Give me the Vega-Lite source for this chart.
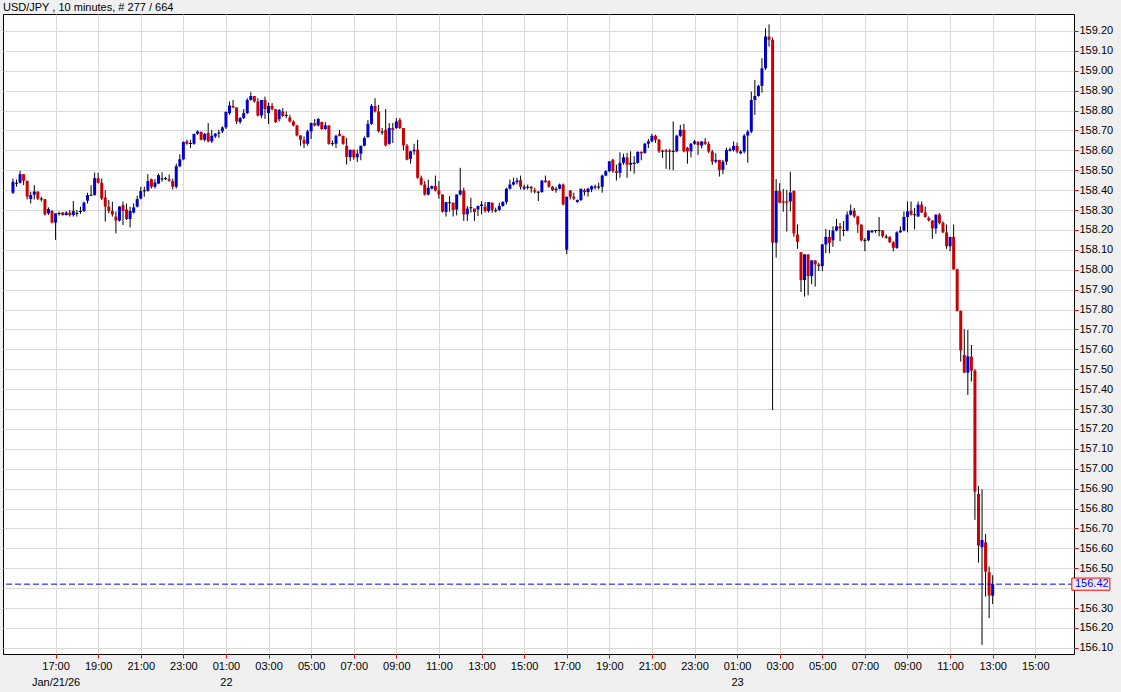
{
"$schema": "https://vega.github.io/schema/vega-lite/v6.json",
"width": 1071,
"height": 640,
"autosize": {"type": "none"},
"padding": {"left": 3, "top": 14, "right": 47, "bottom": 38},
"background": "#f0f0f0",
"title": {"text": "USD/JPY , 10 minutes, # 277 / 664", "anchor": "start", "frame": "group", "font": "Liberation Sans", "fontSize": 11, "fontWeight": "normal", "color": "#000000", "offset": 1},
"config": {"view": {"fill": "white", "stroke": "black", "strokeWidth": 1}, "font": "Liberation Sans"},
"datasets": {
"candles": [
{"i":0,"o":158.387,"h":158.458,"l":158.38,"c":158.442},
{"i":1,"o":158.437,"h":158.453,"l":158.417,"c":158.432},
{"i":2,"o":158.437,"h":158.497,"l":158.433,"c":158.48},
{"i":3,"o":158.48,"h":158.48,"l":158.425,"c":158.447},
{"i":4,"o":158.447,"h":158.447,"l":158.353,"c":158.367},
{"i":5,"o":158.355,"h":158.392,"l":158.333,"c":158.375},
{"i":6,"o":158.377,"h":158.425,"l":158.353,"c":158.393},
{"i":7,"o":158.393,"h":158.393,"l":158.35,"c":158.357},
{"i":8,"o":158.358,"h":158.367,"l":158.342,"c":158.353},
{"i":9,"o":158.355,"h":158.355,"l":158.272,"c":158.278},
{"i":10,"o":158.283,"h":158.313,"l":158.275,"c":158.305},
{"i":11,"o":158.295,"h":158.3,"l":158.233,"c":158.237},
{"i":12,"o":158.237,"h":158.283,"l":158.15,"c":158.283},
{"i":13,"o":158.285,"h":158.292,"l":158.272,"c":158.28},
{"i":14,"o":158.287,"h":158.29,"l":158.272,"c":158.275},
{"i":15,"o":158.275,"h":158.295,"l":158.272,"c":158.287},
{"i":16,"o":158.287,"h":158.3,"l":158.267,"c":158.275},
{"i":17,"o":158.275,"h":158.345,"l":158.267,"c":158.295},
{"i":18,"o":158.286,"h":158.3,"l":158.267,"c":158.281},
{"i":19,"o":158.295,"h":158.317,"l":158.28,"c":158.29},
{"i":20,"o":158.295,"h":158.342,"l":158.29,"c":158.337},
{"i":21,"o":158.347,"h":158.387,"l":158.333,"c":158.375},
{"i":22,"o":158.377,"h":158.425,"l":158.37,"c":158.372},
{"i":23,"o":158.375,"h":158.488,"l":158.373,"c":158.46},
{"i":24,"o":158.46,"h":158.487,"l":158.433,"c":158.437},
{"i":25,"o":158.437,"h":158.458,"l":158.35,"c":158.358},
{"i":26,"o":158.363,"h":158.4,"l":158.242,"c":158.317},
{"i":27,"o":158.317,"h":158.35,"l":158.283,"c":158.295},
{"i":28,"o":158.295,"h":158.342,"l":158.267,"c":158.278},
{"i":29,"o":158.267,"h":158.292,"l":158.183,"c":158.247},
{"i":30,"o":158.247,"h":158.32,"l":158.242,"c":158.317},
{"i":31,"o":158.325,"h":158.342,"l":158.225,"c":158.295},
{"i":32,"o":158.303,"h":158.333,"l":158.25,"c":158.255},
{"i":33,"o":158.255,"h":158.317,"l":158.212,"c":158.295},
{"i":34,"o":158.287,"h":158.333,"l":158.283,"c":158.313},
{"i":35,"o":158.317,"h":158.372,"l":158.313,"c":158.355},
{"i":36,"o":158.358,"h":158.417,"l":158.353,"c":158.395},
{"i":37,"o":158.399,"h":158.417,"l":158.367,"c":158.394},
{"i":38,"o":158.397,"h":158.48,"l":158.392,"c":158.445},
{"i":39,"o":158.455,"h":158.458,"l":158.408,"c":158.417},
{"i":40,"o":158.417,"h":158.455,"l":158.408,"c":158.438},
{"i":41,"o":158.433,"h":158.483,"l":158.43,"c":158.475},
{"i":42,"o":158.459,"h":158.49,"l":158.442,"c":158.454},
{"i":43,"o":158.46,"h":158.467,"l":158.45,"c":158.455},
{"i":44,"o":158.455,"h":158.478,"l":158.442,"c":158.447},
{"i":45,"o":158.445,"h":158.458,"l":158.403,"c":158.417},
{"i":46,"o":158.417,"h":158.533,"l":158.408,"c":158.52},
{"i":47,"o":158.52,"h":158.58,"l":158.515,"c":158.555},
{"i":48,"o":158.555,"h":158.645,"l":158.55,"c":158.642},
{"i":49,"o":158.645,"h":158.653,"l":158.628,"c":158.633},
{"i":50,"o":158.637,"h":158.653,"l":158.612,"c":158.632},
{"i":51,"o":158.633,"h":158.683,"l":158.628,"c":158.683},
{"i":52,"o":158.683,"h":158.7,"l":158.678,"c":158.695},
{"i":53,"o":158.692,"h":158.695,"l":158.65,"c":158.653},
{"i":54,"o":158.653,"h":158.687,"l":158.645,"c":158.682},
{"i":55,"o":158.687,"h":158.737,"l":158.64,"c":158.645},
{"i":56,"o":158.645,"h":158.703,"l":158.637,"c":158.673},
{"i":57,"o":158.67,"h":158.687,"l":158.662,"c":158.683},
{"i":58,"o":158.689,"h":158.703,"l":158.662,"c":158.684},
{"i":59,"o":158.695,"h":158.72,"l":158.687,"c":158.715},
{"i":60,"o":158.715,"h":158.795,"l":158.707,"c":158.793},
{"i":61,"o":158.787,"h":158.845,"l":158.778,"c":158.825},
{"i":62,"o":158.823,"h":158.853,"l":158.812,"c":158.815},
{"i":63,"o":158.815,"h":158.815,"l":158.733,"c":158.745},
{"i":64,"o":158.742,"h":158.767,"l":158.733,"c":158.762},
{"i":65,"o":158.762,"h":158.807,"l":158.757,"c":158.787},
{"i":66,"o":158.787,"h":158.862,"l":158.783,"c":158.853},
{"i":67,"o":158.853,"h":158.892,"l":158.85,"c":158.873},
{"i":68,"o":158.873,"h":158.873,"l":158.84,"c":158.845},
{"i":69,"o":158.845,"h":158.862,"l":158.77,"c":158.775},
{"i":70,"o":158.775,"h":158.853,"l":158.762,"c":158.853},
{"i":71,"o":158.853,"h":158.87,"l":158.758,"c":158.807},
{"i":72,"o":158.787,"h":158.84,"l":158.732,"c":158.823},
{"i":73,"o":158.823,"h":158.837,"l":158.8,"c":158.807},
{"i":74,"o":158.807,"h":158.807,"l":158.737,"c":158.742},
{"i":75,"o":158.757,"h":158.807,"l":158.745,"c":158.803},
{"i":76,"o":158.795,"h":158.812,"l":158.767,"c":158.773},
{"i":77,"o":158.778,"h":158.795,"l":158.762,"c":158.773},
{"i":78,"o":158.765,"h":158.778,"l":158.74,"c":158.745},
{"i":79,"o":158.745,"h":158.75,"l":158.72,"c":158.725},
{"i":80,"o":158.725,"h":158.728,"l":158.67,"c":158.675},
{"i":81,"o":158.675,"h":158.675,"l":158.623,"c":158.653},
{"i":82,"o":158.653,"h":158.67,"l":158.612,"c":158.633},
{"i":83,"o":158.633,"h":158.703,"l":158.623,"c":158.695},
{"i":84,"o":158.695,"h":158.74,"l":158.657,"c":158.737},
{"i":85,"o":158.737,"h":158.757,"l":158.72,"c":158.725},
{"i":86,"o":158.725,"h":158.762,"l":158.72,"c":158.757},
{"i":87,"o":158.743,"h":158.743,"l":158.703,"c":158.707},
{"i":88,"o":158.707,"h":158.742,"l":158.703,"c":158.725},
{"i":89,"o":158.725,"h":158.725,"l":158.628,"c":158.633},
{"i":90,"o":158.636,"h":158.65,"l":158.623,"c":158.631},
{"i":91,"o":158.633,"h":158.678,"l":158.612,"c":158.673},
{"i":92,"o":158.683,"h":158.703,"l":158.67,"c":158.673},
{"i":93,"o":158.673,"h":158.673,"l":158.628,"c":158.632},
{"i":94,"o":158.623,"h":158.662,"l":158.528,"c":158.567},
{"i":95,"o":158.565,"h":158.603,"l":158.545,"c":158.603},
{"i":96,"o":158.603,"h":158.603,"l":158.553,"c":158.565},
{"i":97,"o":158.565,"h":158.603,"l":158.542,"c":158.583},
{"i":98,"o":158.583,"h":158.623,"l":158.55,"c":158.623},
{"i":99,"o":158.623,"h":158.67,"l":158.62,"c":158.662},
{"i":100,"o":158.667,"h":158.753,"l":158.662,"c":158.733},
{"i":101,"o":158.733,"h":158.833,"l":158.728,"c":158.823},
{"i":102,"o":158.823,"h":158.862,"l":158.79,"c":158.795},
{"i":103,"o":158.795,"h":158.828,"l":158.69,"c":158.695},
{"i":104,"o":158.694,"h":158.712,"l":158.678,"c":158.689},
{"i":105,"o":158.703,"h":158.807,"l":158.62,"c":158.625},
{"i":106,"o":158.633,"h":158.737,"l":158.628,"c":158.712},
{"i":107,"o":158.712,"h":158.737,"l":158.637,"c":158.703},
{"i":108,"o":158.712,"h":158.762,"l":158.707,"c":158.745},
{"i":109,"o":158.753,"h":158.762,"l":158.707,"c":158.712},
{"i":110,"o":158.712,"h":158.712,"l":158.6,"c":158.625},
{"i":111,"o":158.623,"h":158.632,"l":158.55,"c":158.553},
{"i":112,"o":158.557,"h":158.598,"l":158.533,"c":158.595},
{"i":113,"o":158.595,"h":158.633,"l":158.578,"c":158.603},
{"i":114,"o":158.603,"h":158.653,"l":158.457,"c":158.462},
{"i":115,"o":158.462,"h":158.473,"l":158.423,"c":158.428},
{"i":116,"o":158.428,"h":158.445,"l":158.373,"c":158.378},
{"i":117,"o":158.378,"h":158.453,"l":158.373,"c":158.412},
{"i":118,"o":158.408,"h":158.423,"l":158.403,"c":158.42},
{"i":119,"o":158.42,"h":158.473,"l":158.393,"c":158.398},
{"i":120,"o":158.398,"h":158.445,"l":158.357,"c":158.378},
{"i":121,"o":158.378,"h":158.378,"l":158.287,"c":158.292},
{"i":122,"o":158.29,"h":158.34,"l":158.267,"c":158.34},
{"i":123,"o":158.339,"h":158.37,"l":158.292,"c":158.334},
{"i":124,"o":158.337,"h":158.337,"l":158.267,"c":158.3},
{"i":125,"o":158.303,"h":158.378,"l":158.273,"c":158.378},
{"i":126,"o":158.378,"h":158.512,"l":158.373,"c":158.398},
{"i":127,"o":158.398,"h":158.412,"l":158.245,"c":158.278},
{"i":128,"o":158.278,"h":158.32,"l":158.245,"c":158.307},
{"i":129,"o":158.314,"h":158.362,"l":158.287,"c":158.309},
{"i":130,"o":158.307,"h":158.307,"l":158.245,"c":158.29},
{"i":131,"o":158.303,"h":158.323,"l":158.27,"c":158.32},
{"i":132,"o":158.32,"h":158.345,"l":158.278,"c":158.328},
{"i":133,"o":158.317,"h":158.34,"l":158.287,"c":158.295},
{"i":134,"o":158.295,"h":158.34,"l":158.287,"c":158.34},
{"i":135,"o":158.337,"h":158.337,"l":158.287,"c":158.3},
{"i":136,"o":158.299,"h":158.312,"l":158.287,"c":158.294},
{"i":137,"o":158.3,"h":158.337,"l":158.295,"c":158.32},
{"i":138,"o":158.32,"h":158.345,"l":158.317,"c":158.34},
{"i":139,"o":158.34,"h":158.412,"l":158.328,"c":158.407},
{"i":140,"o":158.407,"h":158.453,"l":158.403,"c":158.428},
{"i":141,"o":158.428,"h":158.462,"l":158.423,"c":158.44},
{"i":142,"o":158.44,"h":158.462,"l":158.428,"c":158.448},
{"i":143,"o":158.45,"h":158.473,"l":158.403,"c":158.417},
{"i":144,"o":158.408,"h":158.428,"l":158.4,"c":158.417},
{"i":145,"o":158.417,"h":158.428,"l":158.403,"c":158.412},
{"i":146,"o":158.417,"h":158.42,"l":158.387,"c":158.408},
{"i":147,"o":158.4,"h":158.412,"l":158.383,"c":158.392},
{"i":148,"o":158.392,"h":158.395,"l":158.345,"c":158.387},
{"i":149,"o":158.39,"h":158.45,"l":158.387,"c":158.448},
{"i":150,"o":158.448,"h":158.473,"l":158.437,"c":158.44},
{"i":151,"o":158.445,"h":158.45,"l":158.412,"c":158.417},
{"i":152,"o":158.417,"h":158.42,"l":158.395,"c":158.4},
{"i":153,"o":158.4,"h":158.417,"l":158.387,"c":158.407},
{"i":154,"o":158.407,"h":158.433,"l":158.403,"c":158.428},
{"i":155,"o":158.428,"h":158.433,"l":158.323,"c":158.328},
{"i":156,"o":158.1,"h":158.367,"l":158.078,"c":158.367},
{"i":157,"o":158.398,"h":158.398,"l":158.353,"c":158.367},
{"i":158,"o":158.367,"h":158.387,"l":158.35,"c":158.357},
{"i":159,"o":158.34,"h":158.353,"l":158.337,"c":158.35},
{"i":160,"o":158.35,"h":158.407,"l":158.345,"c":158.407},
{"i":161,"o":158.4,"h":158.407,"l":158.373,"c":158.39},
{"i":162,"o":158.39,"h":158.412,"l":158.367,"c":158.407},
{"i":163,"o":158.403,"h":158.423,"l":158.39,"c":158.42},
{"i":164,"o":158.418,"h":158.428,"l":158.403,"c":158.413},
{"i":165,"o":158.418,"h":158.437,"l":158.403,"c":158.413},
{"i":166,"o":158.417,"h":158.478,"l":158.387,"c":158.473},
{"i":167,"o":158.473,"h":158.5,"l":158.47,"c":158.495},
{"i":168,"o":158.495,"h":158.545,"l":158.49,"c":158.545},
{"i":169,"o":158.553,"h":158.557,"l":158.487,"c":158.495},
{"i":170,"o":158.495,"h":158.528,"l":158.448,"c":158.487},
{"i":171,"o":158.487,"h":158.59,"l":158.462,"c":158.537},
{"i":172,"o":158.537,"h":158.583,"l":158.528,"c":158.565},
{"i":173,"o":158.565,"h":158.587,"l":158.462,"c":158.528},
{"i":174,"o":158.528,"h":158.595,"l":158.495,"c":158.537},
{"i":175,"o":158.531,"h":158.57,"l":158.483,"c":158.538},
{"i":176,"o":158.537,"h":158.595,"l":158.533,"c":158.592},
{"i":177,"o":158.592,"h":158.595,"l":158.55,"c":158.585},
{"i":178,"o":158.587,"h":158.637,"l":158.583,"c":158.633},
{"i":179,"o":158.633,"h":158.657,"l":158.612,"c":158.645},
{"i":180,"o":158.645,"h":158.683,"l":158.64,"c":158.673},
{"i":181,"o":158.673,"h":158.678,"l":158.637,"c":158.653},
{"i":182,"o":158.653,"h":158.657,"l":158.587,"c":158.595},
{"i":183,"o":158.598,"h":158.603,"l":158.562,"c":158.593},
{"i":184,"o":158.6,"h":158.607,"l":158.507,"c":158.592},
{"i":185,"o":158.599,"h":158.607,"l":158.503,"c":158.592},
{"i":186,"o":158.597,"h":158.745,"l":158.5,"c":158.592},
{"i":187,"o":158.595,"h":158.678,"l":158.59,"c":158.673},
{"i":188,"o":158.673,"h":158.728,"l":158.667,"c":158.703},
{"i":189,"o":158.703,"h":158.733,"l":158.59,"c":158.595},
{"i":190,"o":158.612,"h":158.617,"l":158.533,"c":158.595},
{"i":191,"o":158.595,"h":158.637,"l":158.565,"c":158.633},
{"i":192,"o":158.633,"h":158.653,"l":158.628,"c":158.645},
{"i":193,"o":158.644,"h":158.644,"l":158.577,"c":158.627},
{"i":194,"o":158.624,"h":158.647,"l":158.61,"c":158.644},
{"i":195,"o":158.644,"h":158.661,"l":158.627,"c":158.632},
{"i":196,"o":158.632,"h":158.644,"l":158.585,"c":158.594},
{"i":197,"o":158.594,"h":158.602,"l":158.527,"c":158.543},
{"i":198,"o":158.543,"h":158.585,"l":158.535,"c":158.552},
{"i":199,"o":158.552,"h":158.552,"l":158.468,"c":158.502},
{"i":200,"o":158.502,"h":158.552,"l":158.48,"c":158.543},
{"i":201,"o":158.543,"h":158.614,"l":158.527,"c":158.602},
{"i":202,"o":158.597,"h":158.614,"l":158.594,"c":158.605},
{"i":203,"o":158.602,"h":158.644,"l":158.594,"c":158.622},
{"i":204,"o":158.622,"h":158.639,"l":158.585,"c":158.594},
{"i":205,"o":158.585,"h":158.602,"l":158.58,"c":158.594},
{"i":206,"o":158.594,"h":158.681,"l":158.585,"c":158.674},
{"i":207,"o":158.674,"h":158.702,"l":158.538,"c":158.694},
{"i":208,"o":158.694,"h":158.895,"l":158.686,"c":158.853},
{"i":209,"o":158.853,"h":158.954,"l":158.778,"c":158.873},
{"i":210,"o":158.873,"h":158.929,"l":158.87,"c":158.924},
{"i":211,"o":158.924,"h":159.063,"l":158.89,"c":159.012},
{"i":212,"o":159.012,"h":159.213,"l":159.004,"c":159.172},
{"i":213,"o":159.172,"h":159.233,"l":159.121,"c":159.155},
{"i":214,"o":159.155,"h":159.167,"l":157.295,"c":158.136},
{"i":215,"o":158.136,"h":158.455,"l":158.061,"c":158.396},
{"i":216,"o":158.396,"h":158.435,"l":158.334,"c":158.337},
{"i":217,"o":158.344,"h":158.406,"l":158.292,"c":158.337},
{"i":218,"o":158.344,"h":158.401,"l":158.192,"c":158.337},
{"i":219,"o":158.343,"h":158.493,"l":158.293,"c":158.388},
{"i":220,"o":158.397,"h":158.397,"l":158.165,"c":158.182},
{"i":221,"o":158.177,"h":158.227,"l":158.105,"c":158.14},
{"i":222,"o":158.088,"h":158.088,"l":157.888,"c":157.948},
{"i":223,"o":157.948,"h":158.077,"l":157.865,"c":158.077},
{"i":224,"o":158.077,"h":158.077,"l":157.872,"c":157.968},
{"i":225,"o":157.968,"h":158.047,"l":157.927,"c":158.047},
{"i":226,"o":158.047,"h":158.047,"l":157.915,"c":158.027},
{"i":227,"o":158.027,"h":158.035,"l":157.993,"c":158.018},
{"i":228,"o":158.018,"h":158.13,"l":157.993,"c":158.127},
{"i":229,"o":158.127,"h":158.205,"l":158.083,"c":158.165},
{"i":230,"o":158.165,"h":158.2,"l":158.083,"c":158.135},
{"i":231,"o":158.148,"h":158.218,"l":158.115,"c":158.197},
{"i":232,"o":158.197,"h":158.255,"l":158.193,"c":158.218},
{"i":233,"o":158.218,"h":158.235,"l":158.143,"c":158.207},
{"i":234,"o":158.2,"h":158.245,"l":158.168,"c":158.195},
{"i":235,"o":158.197,"h":158.293,"l":158.193,"c":158.277},
{"i":236,"o":158.277,"h":158.327,"l":158.272,"c":158.297},
{"i":237,"o":158.297,"h":158.31,"l":158.26,"c":158.268},
{"i":238,"o":158.268,"h":158.272,"l":158.185,"c":158.227},
{"i":239,"o":158.227,"h":158.227,"l":158.143,"c":158.148},
{"i":240,"o":158.15,"h":158.16,"l":158.093,"c":158.145},
{"i":241,"o":158.148,"h":158.197,"l":158.143,"c":158.197},
{"i":242,"o":158.188,"h":158.2,"l":158.185,"c":158.197},
{"i":243,"o":158.199,"h":158.2,"l":158.185,"c":158.194},
{"i":244,"o":158.199,"h":158.265,"l":158.168,"c":158.194},
{"i":245,"o":158.197,"h":158.2,"l":158.16,"c":158.168},
{"i":246,"o":158.167,"h":158.178,"l":158.155,"c":158.162},
{"i":247,"o":158.165,"h":158.168,"l":158.135,"c":158.138},
{"i":248,"o":158.138,"h":158.143,"l":158.093,"c":158.11},
{"i":249,"o":158.11,"h":158.193,"l":158.105,"c":158.188},
{"i":250,"o":158.188,"h":158.218,"l":158.185,"c":158.197},
{"i":251,"o":158.197,"h":158.293,"l":158.193,"c":158.265},
{"i":252,"o":158.265,"h":158.343,"l":158.188,"c":158.293},
{"i":253,"o":158.297,"h":158.343,"l":158.272,"c":158.277},
{"i":254,"o":158.279,"h":158.31,"l":158.202,"c":158.274},
{"i":255,"o":158.268,"h":158.343,"l":158.265,"c":158.327},
{"i":256,"o":158.327,"h":158.343,"l":158.285,"c":158.288},
{"i":257,"o":158.288,"h":158.317,"l":158.262,"c":158.265},
{"i":258,"o":158.26,"h":158.268,"l":158.242,"c":158.248},
{"i":259,"o":158.248,"h":158.248,"l":158.155,"c":158.207},
{"i":260,"o":158.207,"h":158.277,"l":158.18,"c":158.277},
{"i":261,"o":158.277,"h":158.285,"l":158.228,"c":158.235},
{"i":262,"o":158.235,"h":158.243,"l":158.183,"c":158.188},
{"i":263,"o":158.188,"h":158.227,"l":158.105,"c":158.118},
{"i":264,"o":158.118,"h":158.165,"l":158.093,"c":158.165},
{"i":265,"o":158.165,"h":158.227,"l":158.0,"c":158.002},
{"i":266,"o":158.002,"h":158.005,"l":157.79,"c":157.793},
{"i":267,"o":157.793,"h":157.795,"l":157.538,"c":157.594},
{"i":268,"o":157.572,"h":157.701,"l":157.48,"c":157.483},
{"i":269,"o":157.483,"h":157.697,"l":157.371,"c":157.565},
{"i":270,"o":157.563,"h":157.622,"l":157.438,"c":157.493},
{"i":271,"o":157.493,"h":157.5,"l":156.743,"c":156.885},
{"i":272,"o":156.873,"h":156.913,"l":156.529,"c":156.614},
{"i":273,"o":156.606,"h":156.897,"l":156.115,"c":156.642},
{"i":274,"o":156.63,"h":156.672,"l":156.357,"c":156.483},
{"i":275,"o":156.48,"h":156.508,"l":156.249,"c":156.362},
{"i":276,"o":156.362,"h":156.465,"l":156.32,"c":156.42}
],
"last": [{"p": 156.42, "label": "156.42", "edge": 297.5, "box": 303.65}]
},
"layer": [
{
"data": {"name": "candles"},
"mark": {"type": "rule", "color": "#000000", "strokeWidth": 1},
"encoding": {
"x": {"field": "i", "type": "quantitative",
 "scale": {"domain": [-1.4, 297.5], "nice": false, "zero": false},
 "axis": {"title": null, "orient": "bottom", "values": [12,24,36,48,60,72,84,96,108,120,132,144,156,168,180,192,204,216,228,240,252,264,276,288], "tickCount": 100,
  "domain": false, "grid": true, "gridColor": "#d9d9d9", "gridWidth": 1, "ticks": true, "tickColor": "#ee0000", "tickSize": 4, "tickWidth": 1,
  "labelFont": "Liberation Sans", "labelFontSize": 11, "labelColor": "#000000", "labelPadding": 2, "labelLineHeight": 16,
  "labelOverlap": false, "labelFlush": false, "labelBound": false,
  "labelExpr": "[((15 + datum.value/6) % 24 < 10 ? '0' : '') + ((15 + datum.value/6) % 24) + ':00', datum.value == 12 ? 'Jan/21/26' : datum.value == 60 ? '22' : datum.value == 204 ? '23' : '']"}},
"y": {"field": "l", "type": "quantitative",
 "scale": {"domain": [156.069, 159.285], "nice": false, "zero": false},
 "axis": {"title": null, "orient": "right", "values": [156.1,156.2,156.3,156.4,156.5,156.6,156.7,156.8,156.9,157.0,157.1,157.2,157.3,157.4,157.5,157.6,157.7,157.8,157.9,158.0,158.1,158.2,158.3,158.4,158.5,158.6,158.7,158.8,158.9,159.0,159.1,159.2], "tickCount": 100,
  "format": ".2f", "labelExpr": "abs(datum.value - 156.4) < 0.001 ? '' : datum.label",
  "domain": false, "grid": true, "gridColor": "#d9d9d9", "gridWidth": 1, "ticks": true, "tickColor": "#ee0000", "tickSize": 4, "tickWidth": 1,
  "labelFont": "Liberation Sans", "labelFontSize": 11, "labelColor": "#000000", "labelPadding": 1, "labelOverlap": false, "labelFlush": false, "labelBound": false}},
"y2": {"field": "h"}
}
},
{
"data": {"name": "candles"},
"mark": {"type": "bar", "size": 3},
"encoding": {
"x": {"field": "i", "type": "quantitative", "scale": {"domain": [-1.4, 297.5], "nice": false, "zero": false}},
"y": {"field": "o", "type": "quantitative", "scale": {"domain": [156.069, 159.285], "nice": false, "zero": false}},
"y2": {"field": "c"},
"color": {"condition": [{"test": "datum.c - datum.o > 0.006", "value": "#0000cc"}, {"test": "datum.o - datum.c > 0.006", "value": "#cc0000"}], "value": "#000000"}
}
},
{
"data": {"name": "last"},
"mark": {"type": "rule", "color": "#0000ff", "strokeWidth": 1, "strokeDash": [6, 3]},
"encoding": {
"y": {"field": "p", "type": "quantitative", "scale": {"domain": [156.069, 159.285], "nice": false, "zero": false}}
}
},
{
"data": {"name": "last"},
"mark": {"type": "point", "shape": "M-1,-0.32H1V0.32H-1Z", "size": 1444, "fill": "#f0f0f0", "stroke": "#ff0000", "strokeWidth": 1, "opacity": 1, "fillOpacity": 1, "clip": false},
"encoding": {
"x": {"field": "box", "type": "quantitative", "scale": {"domain": [-1.4, 297.5], "nice": false, "zero": false}},
"y": {"field": "p", "type": "quantitative", "scale": {"domain": [156.069, 159.285], "nice": false, "zero": false}}
}
},
{
"data": {"name": "last"},
"mark": {"type": "text", "align": "left", "baseline": "middle", "dx": 6, "color": "#0000ff", "font": "Liberation Sans", "fontSize": 11, "clip": false},
"encoding": {
"x": {"field": "edge", "type": "quantitative", "scale": {"domain": [-1.4, 297.5], "nice": false, "zero": false}},
"y": {"field": "p", "type": "quantitative", "scale": {"domain": [156.069, 159.285], "nice": false, "zero": false}},
"text": {"field": "label"}
}
}
]
}
